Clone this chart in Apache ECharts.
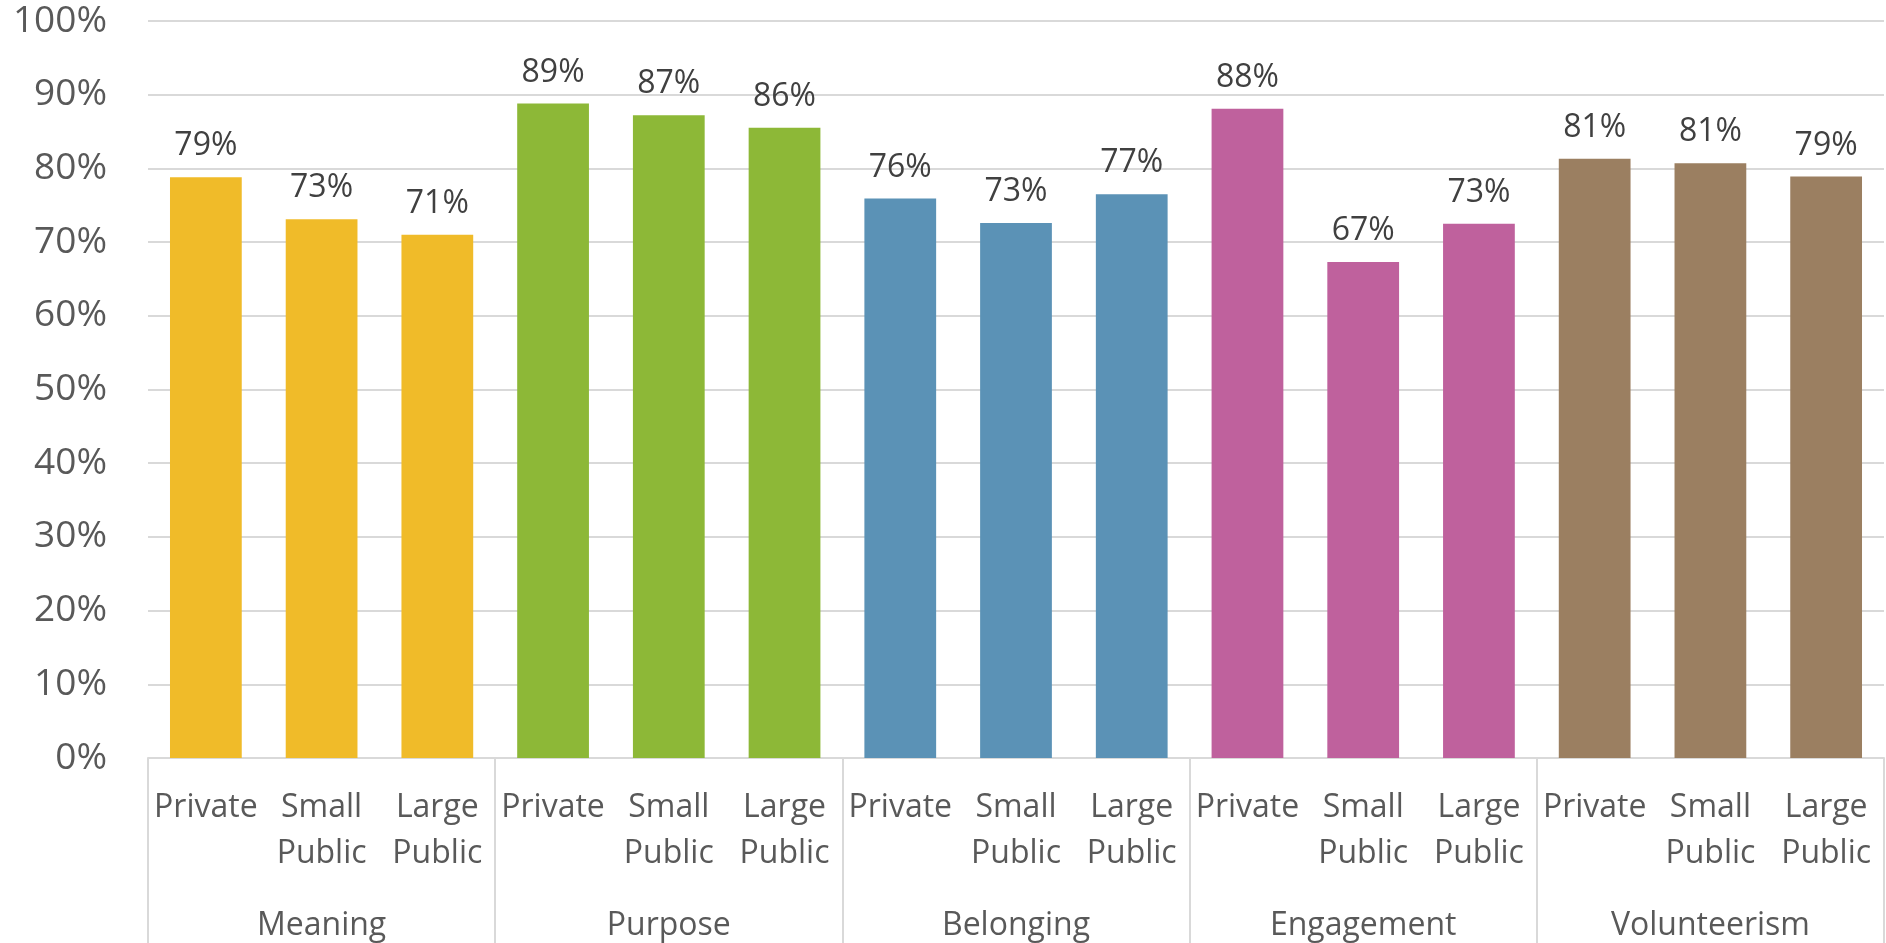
<!DOCTYPE html>
<html>
<head>
<meta charset="utf-8">
<script src="https://cdn.jsdelivr.net/npm/echarts@6/dist/echarts.min.js"></script>
<style>html,body{margin:0;padding:0;background:#fff;}#c{width:1886px;height:943px;}</style>
</head>
<body>
<div id="c"></div>
<script>
const groups = ['Meaning', 'Purpose', 'Belonging', 'Engagement', 'Volunteerism'];
const subCategories = ['Private', 'Small\nPublic', 'Large\nPublic'];
const meaning = [78.8, 73.1, 71.0];
const purpose = [88.8, 87.2, 85.5];
const belonging = [75.9, 72.6, 76.5];
const engagement = [88.1, 67.3, 72.5];
const volunteerism = [81.3, 80.7, 78.9];
const groupColors = ['#F0BB29', '#8DB837', '#5B92B6', '#BF619D', '#9B7F61'];
const yTicks = [0, 10, 20, 30, 40, 50, 60, 70, 80, 90, 100];

const groupValues = [meaning, purpose, belonging, engagement, volunteerism];
const cats = [];
const data = [];
groupValues.forEach((vals, gi) => {
  vals.forEach((v, si) => {
    cats.push(subCategories[si]);
    data.push({ value: v, itemStyle: { color: groupColors[gi] } });
  });
});

const font = '"Open Sans", sans-serif';
const chart = echarts.init(document.getElementById('c'));
chart.setOption({
  animation: false,
  grid: { left: 148, right: 2, top: 21, bottom: 185, containLabel: false, outerBoundsMode: 'none' },
  xAxis: [
    {
      type: 'category',
      data: cats,
      position: 'bottom',
      axisLine: { show: false },
      axisTick: { show: false },
      axisLabel: {
        interval: 0, margin: 27, color: '#595959',
        fontFamily: font, fontSize: 32, lineHeight: 46
      }
    },
    {
      type: 'category',
      data: groups,
      position: 'bottom',
      axisLine: { show: true, lineStyle: { color: '#D9D9D9', width: 2 } },
      axisTick: { show: true, interval: 0, length: 190, lineStyle: { color: '#D9D9D9', width: 2 } },
      axisLabel: {
        interval: 0, margin: 145, color: '#595959',
        fontFamily: font, fontSize: 32, lineHeight: 46
      }
    }
  ],
  yAxis: {
    type: 'value',
    min: yTicks[0], max: yTicks[yTicks.length - 1], interval: 10,
    axisLine: { show: false },
    axisTick: { show: false },
    splitLine: { lineStyle: { color: '#D9D9D9', width: 2 } },
    axisLabel: {
      margin: 41, color: '#595959', fontFamily: font, fontSize: 37,
      formatter: '{value}%'
    }
  },
  series: [{
    type: 'bar',
    xAxisIndex: 0,
    data: data,
    barCategoryGap: '38%',
    label: {
      show: true, position: 'top', distance: 11,
      color: '#404040', fontFamily: font, fontSize: 32, lineHeight: 40,
      formatter: p => Math.round(p.value) + '%'
    }
  }]
});
</script>
</body>
</html>
